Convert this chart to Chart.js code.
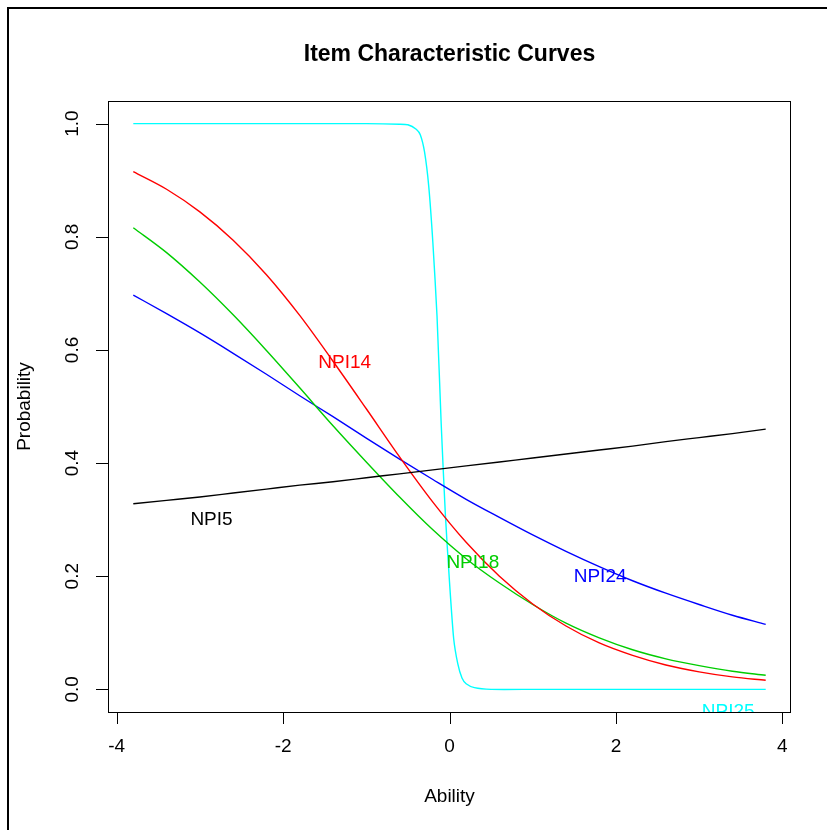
<!DOCTYPE html>
<html>
<head>
<meta charset="utf-8">
<script src="https://cdn.jsdelivr.net/npm/chart.js@4.4.1/dist/chart.umd.min.js"></script>
<style>
  body { margin: 0; background: #fff; }
  #wrap { position: relative; width: 827px; height: 830px; }
  #frame { position: absolute; left: 7px; top: 7px; width: 830px; height: 830px;
           border-left: 2px solid #000; border-top: 2px solid #000; }
  canvas { position: absolute; left: 0; top: 0; }
</style>
</head>
<body>
<div id="wrap">
  <div id="frame"></div>
  <canvas id="icc" width="827" height="830"></canvas>
</div>
<script>
// ability grid used for the smooth curves
const ability = [-3.8, -3.4, -3.0, -2.6, -2.2, -1.8, -1.4, -1.0, -0.6, -0.2, 0.2, 0.6, 1.0, 1.4, 1.8, 2.2, 2.6, 3.0, 3.4, 3.8];
const npi5  = [0.328, 0.334, 0.340, 0.347, 0.354, 0.361, 0.367, 0.374, 0.381, 0.388, 0.395, 0.402, 0.409, 0.416, 0.423, 0.430, 0.438, 0.445, 0.452, 0.460];
const npi14 = [0.915, 0.884, 0.844, 0.794, 0.733, 0.661, 0.580, 0.496, 0.411, 0.331, 0.260, 0.200, 0.151, 0.112, 0.082, 0.060, 0.043, 0.031, 0.022, 0.016];
const npi18 = [0.816, 0.772, 0.720, 0.662, 0.599, 0.533, 0.466, 0.402, 0.340, 0.282, 0.231, 0.188, 0.150, 0.117, 0.091, 0.070, 0.054, 0.042, 0.032, 0.025];
const npi24 = [0.697, 0.664, 0.630, 0.594, 0.557, 0.519, 0.482, 0.444, 0.407, 0.371, 0.336, 0.304, 0.273, 0.244, 0.217, 0.192, 0.170, 0.150, 0.131, 0.115];
// NPI25 is very steep, so it gets its own finer grid around 0
const ability25 = [-3.8, -1.0, -0.6, -0.5, -0.4, -0.35, -0.3, -0.25, -0.2, -0.15, -0.1, -0.05, 0.0, 0.05, 0.1, 0.15, 0.2, 0.3, 0.5, 1.0, 3.8];
const npi25 = [1.0, 1.0, 0.999, 0.998, 0.99, 0.98, 0.95, 0.89, 0.79, 0.66, 0.47, 0.31, 0.19, 0.09, 0.045, 0.02, 0.01, 0.003, 0.0, 0.0, 0.0];

const itemNames = ['NPI5', 'NPI14', 'NPI18', 'NPI24', 'NPI25'];
const itemColors = ['#000000', '#FF0000', '#00CD00', '#0000FF', '#00FFFF'];
const labelX = [-2.86, -1.26, 0.28, 1.81, 3.35];
const labelY = [0.30, 0.578, 0.223, 0.199, -0.04];

const xTicks = [-4, -2, 0, 2, 4];
const yTicks = [0.0, 0.2, 0.4, 0.6, 0.8, 1.0];

const FONT = '"Liberation Sans", Arial, Helvetica, sans-serif';

function pts(xs, ys) {
    return xs.map((x, i) => ({ x: x, y: ys[i] }));
}

const series = [
    pts(ability, npi5), pts(ability, npi14), pts(ability, npi18),
    pts(ability, npi24), pts(ability25, npi25)
];

// R style box, axes, titles and item labels
const rPlot = {
    id: 'rPlot',
    afterDatasetsDraw(chart) {
        const { ctx, chartArea: a, scales: { x, y } } = chart;

        // item labels, clipped to the plot region like text() in R
        ctx.save();
        ctx.beginPath();
        ctx.rect(a.left, a.top, a.right - a.left, a.bottom - a.top);
        ctx.clip();
        ctx.font = '19px ' + FONT;
        ctx.textAlign = 'center';
        ctx.textBaseline = 'middle';
        itemNames.forEach((n, i) => {
            ctx.fillStyle = itemColors[i];
            ctx.fillText(n, x.getPixelForValue(labelX[i]), y.getPixelForValue(labelY[i]));
        });
        ctx.restore();

        ctx.save();
        ctx.strokeStyle = '#000';
        ctx.lineWidth = 1;
        ctx.strokeRect(a.left + 0.5, a.top + 0.5, a.right - a.left - 1, a.bottom - a.top);

        ctx.fillStyle = '#000';
        ctx.font = '19px ' + FONT;
        ctx.textAlign = 'center';
        ctx.textBaseline = 'middle';

        // x axis
        ctx.beginPath();
        xTicks.forEach(t => {
            const px = Math.round(x.getPixelForValue(t)) + 0.5;
            ctx.moveTo(px, a.bottom);
            ctx.lineTo(px, a.bottom + 12);
        });
        ctx.stroke();
        xTicks.forEach(t => ctx.fillText(String(t), x.getPixelForValue(t), a.bottom + 35));

        // y axis, labels turned like R's las = 0
        ctx.beginPath();
        yTicks.forEach(t => {
            const py = Math.round(y.getPixelForValue(t)) + 0.5;
            ctx.moveTo(a.left, py);
            ctx.lineTo(a.left - 12, py);
        });
        ctx.stroke();
        yTicks.forEach(t => {
            ctx.save();
            ctx.translate(a.left - 35, y.getPixelForValue(t));
            ctx.rotate(-Math.PI / 2);
            ctx.fillText(t.toFixed(1), 0, 0);
            ctx.restore();
        });

        // axis titles
        ctx.fillText('Ability', (a.left + a.right) / 2, 797);
        ctx.save();
        ctx.translate(25, (a.top + a.bottom) / 2);
        ctx.rotate(-Math.PI / 2);
        ctx.fillText('Probability', 0, 0);
        ctx.restore();

        ctx.font = 'bold 23px ' + FONT;
        ctx.fillText('Item Characteristic Curves', (a.left + a.right) / 2, 55);
        ctx.restore();
    }
};

const ctx = document.getElementById('icc').getContext('2d');
new Chart(ctx, {
    type: 'line',
    data: {
        datasets: itemNames.map((n, i) => ({
            label: n,
            data: series[i],
            borderColor: itemColors[i],
            borderWidth: 1.4,
            pointRadius: 0,
            fill: false,
            tension: i === 4 ? 0.2 : 0.4,
            cubicInterpolationMode: i === 4 ? 'default' : 'monotone'
        }))
    },
    options: {
        responsive: false,
        animation: false,
        layout: { padding: { left: 108, top: 101, right: 36, bottom: 118 } },
        scales: {
            x: { type: 'linear', min: -4.104, max: 4.104, display: false },
            y: { min: -0.04, max: 1.04, display: false }
        },
        plugins: {
            legend: { display: false },
            tooltip: { enabled: false }
        }
    },
    plugins: [rPlot]
});
</script>
</body>
</html>
